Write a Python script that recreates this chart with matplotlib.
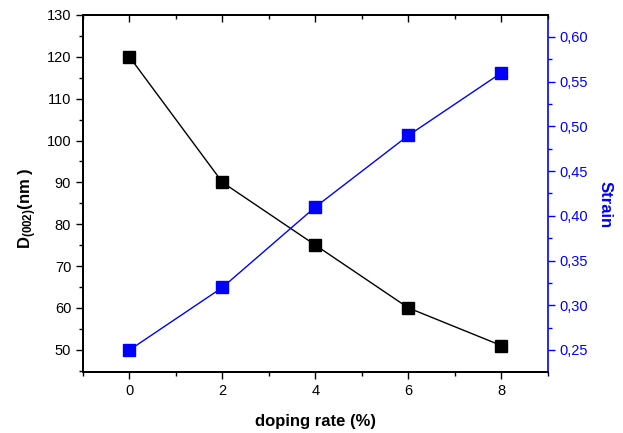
import matplotlib
matplotlib.use("Agg")
import matplotlib.pyplot as plt
from matplotlib.ticker import MultipleLocator, FuncFormatter

plt.rcParams['font.family'] = ['Liberation Sans', 'DejaVu Sans']
plt.rcParams['mathtext.fontset'] = 'custom'
plt.rcParams['mathtext.rm'] = 'Liberation Sans:bold'
plt.rcParams['mathtext.bf'] = 'Liberation Sans:bold'
plt.rcParams['mathtext.default'] = 'bf'

# data
doping = [0, 2, 4, 6, 8]
size_nm = [120, 90, 75, 60, 51]
strain = [0.25, 0.32, 0.41, 0.49, 0.56]

blue = '#0000ff'

fig = plt.figure(figsize=(6.23, 4.33), dpi=100)
ax = fig.add_axes([0.1332, 0.1409, 0.7464, 0.8245])
ax2 = ax.twinx()

ax.plot(doping, size_nm, '-s', color='black', lw=1.0, ms=8, zorder=3)
ax2.plot(doping, strain, '-s', color=blue, lw=1.0, ms=8, zorder=3)

ax.set_xlim(-1, 9)
ax.set_ylim(44.7, 130)
ax2.set_ylim(0.2254, 0.6246)

ax.xaxis.set_major_locator(MultipleLocator(2))
ax.xaxis.set_minor_locator(MultipleLocator(1))
ax.yaxis.set_major_locator(MultipleLocator(10))
ax.yaxis.set_minor_locator(MultipleLocator(5))
ax2.yaxis.set_major_locator(MultipleLocator(0.05))
ax2.yaxis.set_minor_locator(MultipleLocator(0.025))
ax2.yaxis.set_major_formatter(FuncFormatter(lambda v, p: ('%.2f' % v).replace('.', ',')))

ax.tick_params(axis='x', which='both', direction='out', top=False, labelsize=10.5)
ax.tick_params(axis='x', which='major', length=5, width=1)
ax.tick_params(axis='x', which='minor', length=3, width=1)
ax.tick_params(axis='y', which='both', direction='out', right=False, labelsize=10.5)
ax.tick_params(axis='y', which='major', length=5, width=1)
ax.tick_params(axis='y', which='minor', length=3, width=1)

# inward ticks on the top edge
top = ax.twiny()
top.set_xlim(ax.get_xlim())
top.xaxis.set_major_locator(MultipleLocator(2))
top.xaxis.set_minor_locator(MultipleLocator(1))
top.tick_params(axis='x', which='both', direction='in', top=True, bottom=False,
                labeltop=False, labelbottom=False, width=1)
top.tick_params(axis='x', which='major', length=5)
top.tick_params(axis='x', which='minor', length=3)
top.tick_params(axis='y', left=False, right=False, labelleft=False, labelright=False)

ax2.tick_params(axis='y', which='both', direction='out', colors=blue, labelsize=10.5)
ax2.tick_params(axis='y', which='major', length=5, width=1)
ax2.tick_params(axis='y', which='minor', length=3, width=1)

for a in (ax, ax2, top):
    for s in a.spines.values():
        s.set_linewidth(1.2)
ax2.spines['right'].set_color(blue)
top.spines['right'].set_visible(False)
ax.spines['right'].set_visible(False)

ax.set_xlabel('doping rate (%)', fontsize=12, fontweight='bold', labelpad=12)
ax.set_ylabel('D$_{(002)}$(nm )', fontsize=12, fontweight='bold')
ax.yaxis.set_label_coords(-0.095, 0.46)
ax2.set_ylabel('Strain', fontsize=12, fontweight='bold', color=blue, rotation=-90,
               va='center')
ax2.yaxis.set_label_coords(1.123, 0.47)

fig.savefig('out.png', dpi=100)
